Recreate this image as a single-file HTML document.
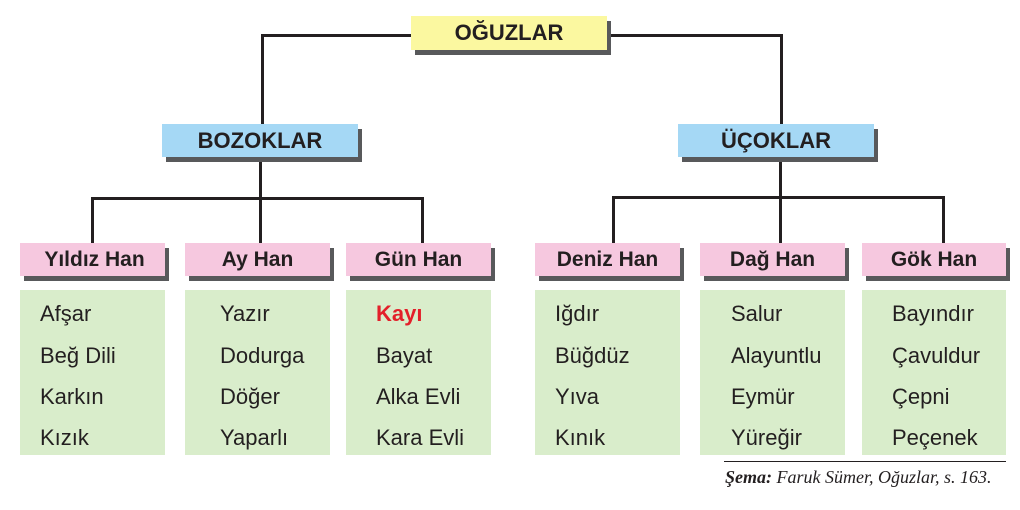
<!DOCTYPE html>
<html><head><meta charset="utf-8"><style>
body{margin:0;width:1020px;height:510px;background:#fff;position:relative;overflow:hidden;font-family:"Liberation Sans",sans-serif}
.b{position:absolute;box-shadow:4px 5px 0 #58595b;font-weight:bold;color:#231f20;font-size:21px;display:flex;align-items:center;justify-content:center}
.y{background:#fbf8a0}.bl{background:#a5d8f5}.p{background:#f6c8df}
.g{position:absolute;background:#d9edcb;top:290px;height:165px;width:145px;font-size:22px;color:#231f20}
.g div{position:absolute;left:20px}
.l{position:absolute;background:#231f20}
</style></head><body>
<div class="l" style="left:261px;top:34px;width:152px;height:3px"></div>
<div class="l" style="left:261px;top:34px;width:3px;height:92px"></div>
<div class="l" style="left:605px;top:34px;width:178px;height:3px"></div>
<div class="l" style="left:780px;top:34px;width:3px;height:92px"></div>
<div class="l" style="left:259px;top:155px;width:3px;height:45px"></div>
<div class="l" style="left:91px;top:197px;width:333px;height:3px"></div>
<div class="l" style="left:91px;top:197px;width:3px;height:47px"></div>
<div class="l" style="left:259px;top:197px;width:3px;height:47px"></div>
<div class="l" style="left:421px;top:197px;width:3px;height:47px"></div>
<div class="l" style="left:779px;top:155px;width:3px;height:45px"></div>
<div class="l" style="left:612px;top:196px;width:333px;height:3px"></div>
<div class="l" style="left:612px;top:196px;width:3px;height:48px"></div>
<div class="l" style="left:779px;top:196px;width:3px;height:48px"></div>
<div class="l" style="left:942px;top:196px;width:3px;height:48px"></div>
<div class="b y" style="left:411px;top:16px;width:196px;height:34px;font-size:22px">OĞUZLAR</div>
<div class="b bl" style="left:162px;top:124px;width:196px;height:33px;font-size:22px">BOZOKLAR</div>
<div class="b bl" style="left:678px;top:124px;width:196px;height:33px;font-size:22px">ÜÇOKLAR</div>
<div class="b p" style="left:20px;top:243px;width:145px;height:33px;padding-left:4px;box-sizing:border-box">Yıldız Han</div>
<div class="b p" style="left:185px;top:243px;width:145px;height:33px">Ay Han</div>
<div class="b p" style="left:346px;top:243px;width:145px;height:33px">Gün Han</div>
<div class="b p" style="left:535px;top:243px;width:145px;height:33px">Deniz Han</div>
<div class="b p" style="left:700px;top:243px;width:145px;height:33px">Dağ Han</div>
<div class="b p" style="left:862px;top:243px;width:144px;height:33px">Gök Han</div>
<div class="g" style="left:20px"><div style="top:11px">Afşar</div><div style="top:53px">Beğ Dili</div><div style="top:94px">Karkın</div><div style="top:135px">Kızık</div></div>
<div class="g" style="left:185px"><div style="top:11px;left:35px">Yazır</div><div style="top:53px;left:35px">Dodurga</div><div style="top:94px;left:35px">Döğer</div><div style="top:135px;left:35px">Yaparlı</div></div>
<div class="g" style="left:346px"><div style="top:11px;left:30px;color:#e3202a;font-weight:bold">Kayı</div><div style="top:53px;left:30px">Bayat</div><div style="top:94px;left:30px">Alka Evli</div><div style="top:135px;left:30px">Kara Evli</div></div>
<div class="g" style="left:535px"><div style="top:11px">Iğdır</div><div style="top:53px">Büğdüz</div><div style="top:94px">Yıva</div><div style="top:135px">Kınık</div></div>
<div class="g" style="left:700px"><div style="top:11px;left:31px">Salur</div><div style="top:53px;left:31px">Alayuntlu</div><div style="top:94px;left:31px">Eymür</div><div style="top:135px;left:31px">Yüreğir</div></div>
<div class="g" style="left:862px;width:144px"><div style="top:11px;left:30px">Bayındır</div><div style="top:53px;left:30px">Çavuldur</div><div style="top:94px;left:30px">Çepni</div><div style="top:135px;left:30px">Peçenek</div></div>
<div class="l" style="left:724px;top:461px;width:282px;height:1px"></div>
<div style="position:absolute;left:725px;top:467px;font-family:'Liberation Serif',serif;font-style:italic;font-size:18px;color:#231f20"><b>Şema:</b> Faruk Sümer, Oğuzlar, s. 163.</div>
</body></html>
